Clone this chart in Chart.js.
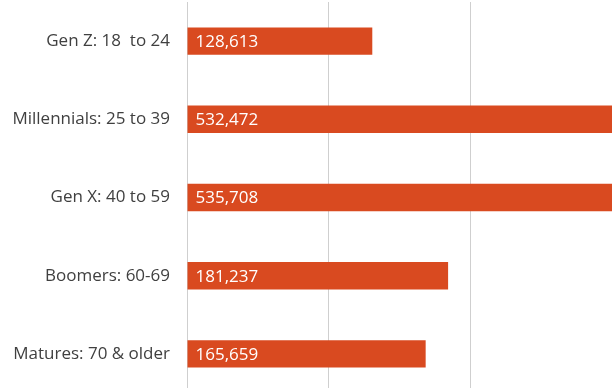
<!DOCTYPE html>
<html>
<head>
<meta charset="utf-8">
<script src="https://cdn.jsdelivr.net/npm/chart.js@4/dist/chart.umd.min.js"></script>
<style>
  html, body { margin: 0; padding: 0; background: #fff; overflow: hidden; }
  #wrap { width: 612px; height: 396px; }
</style>
</head>
<body>
<div id="wrap"><canvas id="genChart" width="612" height="396"></canvas></div>
<script>
const generations = ['Gen Z: 18  to 24', 'Millennials: 25 to 39', 'Gen X: 40 to 59', 'Boomers: 60-69', 'Matures: 70 & older'];
const counts = [128613, 532472, 535708, 181237, 165659];

// writes the value in white at the start of each bar
const valueLabels = {
  id: 'valueLabels',
  afterDatasetsDraw(chart) {
    const ctx = chart.ctx;
    const meta = chart.getDatasetMeta(0);
    ctx.save();
    ctx.fillStyle = '#ffffff';
    ctx.font = '17px "Open Sans"';
    ctx.textAlign = 'left';
    ctx.textBaseline = 'middle';
    meta.data.forEach((bar, i) => {
      ctx.fillText(counts[i].toLocaleString('en-US'), bar.base + 8, bar.y + 1);
    });
    ctx.restore();
  }
};

new Chart(document.getElementById('genChart').getContext('2d'), {
  type: 'bar',
  data: {
    labels: generations,
    datasets: [{
      data: counts,
      backgroundColor: '#d94a20',
      borderWidth: 0,
      categoryPercentage: 1,
      barPercentage: 0.35
    }]
  },
  options: {
    indexAxis: 'y',
    responsive: false,
    animation: false,
    layout: { padding: { top: 2, bottom: 3, left: 0, right: 0 } },
    plugins: {
      legend: { display: false },
      tooltip: { enabled: false }
    },
    scales: {
      x: {
        min: 0,
        max: 295000,
        ticks: { display: false, stepSize: 100000 },
        grid: { color: '#cfcfcf', drawTicks: false, lineWidth: 1 },
        border: { display: true, color: '#e4e4e4' }
      },
      y: {
        afterFit: function (scale) {
          scale.width = 187;
          scale.paddingTop = 0;
          scale.paddingBottom = 0;
        },
        ticks: {
          color: '#404040',
          padding: 17,
          font: { family: '"Open Sans"', size: 17 }
        },
        grid: { display: false, drawTicks: false },
        border: { display: false }
      }
    }
  },
  plugins: [valueLabels]
});
</script>
</body>
</html>
